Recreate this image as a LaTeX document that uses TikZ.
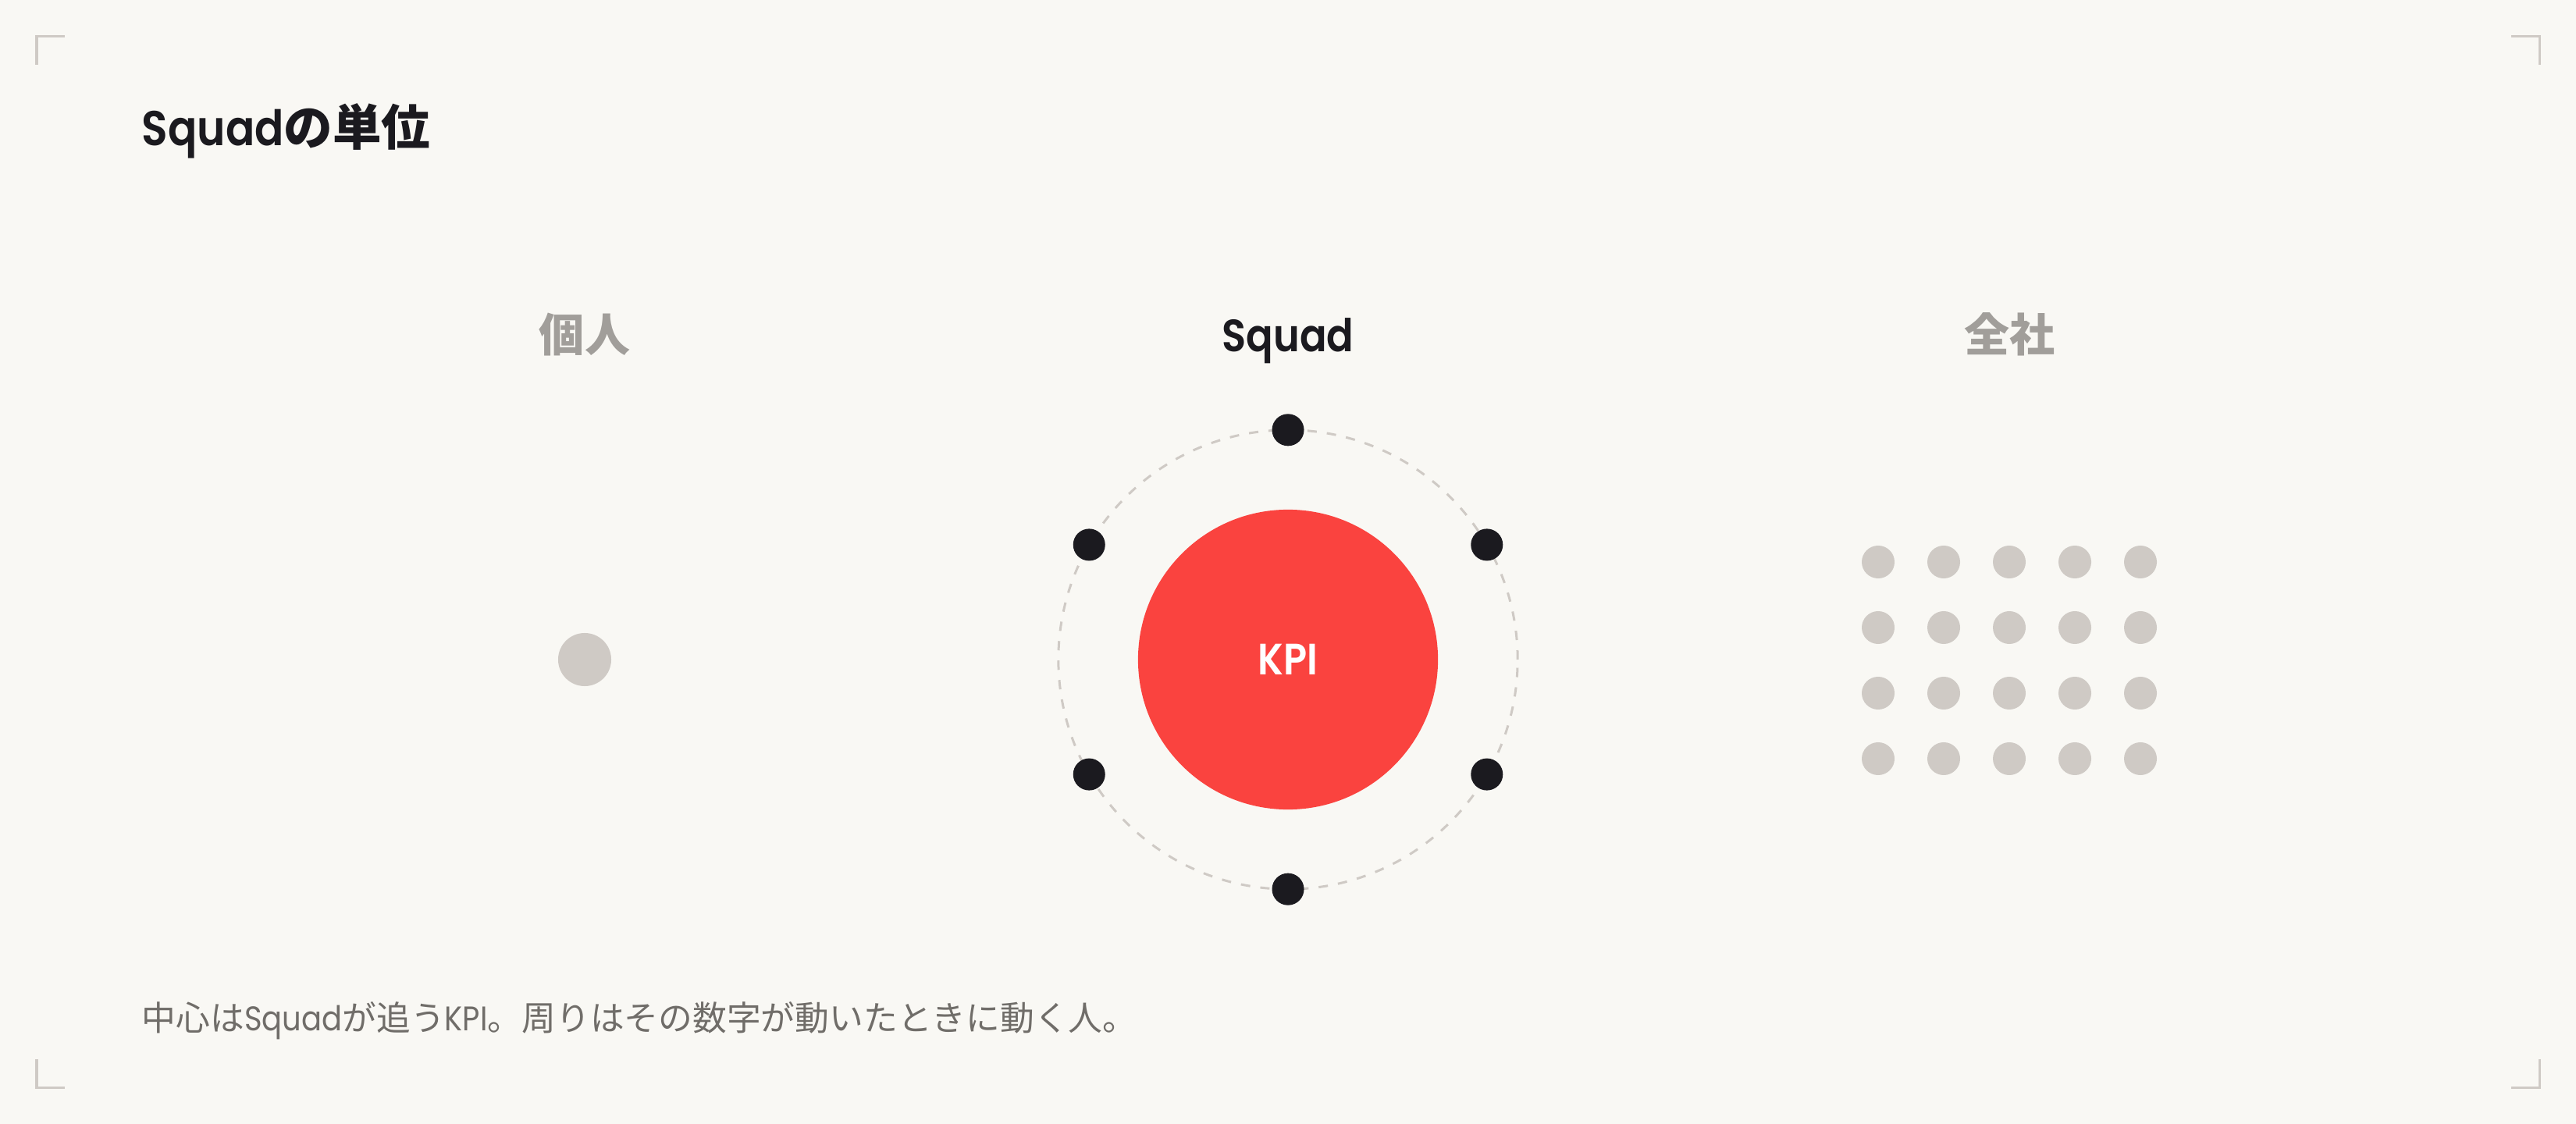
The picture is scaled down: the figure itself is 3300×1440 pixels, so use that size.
\documentclass[tikz,border=0pt]{standalone}
\usepackage{fontspec}
\setmainfont{Poppins}[BoldFont={Poppins SemiBold},FakeStretch=0.88]
\newfontfamily\cjk{Noto Sans CJK JP}
\definecolor{paper}{HTML}{F9F8F4}
\definecolor{ink}{HTML}{1B1A1F}
\definecolor{mute}{HTML}{A19E9A}
\definecolor{note}{HTML}{706D69}
\definecolor{pebble}{HTML}{CFCAC5}
\definecolor{kpired}{HTML}{FA433F}
\tikzset{
  corner/.style={pebble,line width=0.03cm},
  heading/.style={inner sep=0pt,anchor=base,font=\fontsize{16.5}{20}\selectfont\bfseries},
  member/.style={circle,fill=ink,inner sep=0pt,minimum size=0.41cm},
  crowd/.style={circle,fill=pebble,inner sep=0pt,minimum size=0.42cm},
}
\begin{document}
\begin{tikzpicture}[x=0.01cm,y=-0.01cm]
  \fill[paper] (0,0) rectangle (3300,1440);
  \useasboundingbox (0,0) rectangle (3300,1440);
  % corner marks
  \draw[corner] (47,83) -- (47,47) -- (83,47);
  \draw[corner] (3217,47) -- (3253,47) -- (3253,83);
  \draw[corner] (47,1357) -- (47,1393) -- (83,1393);
  \draw[corner] (3217,1393) -- (3253,1393) -- (3253,1357);
  \node[inner sep=0pt,anchor=base west,text=ink,font=\fontsize{17.8}{20}\selectfont\bfseries] (title) at (181,187) {Squad{\cjk の単位}};
  % column headings
  \node[heading,text=mute] (hsolo) at (749,451) {\cjk 個人};
  \node[heading,text=ink] (hsquad) at (1650,451) {Squad};
  \node[heading,text=mute] (hall) at (2574,451) {\cjk 全社};
  % one person
  \node[crowd,minimum size=0.68cm] (solo) at (749,845) {};
  % squad around its KPI
  \node[circle,draw=pebble,line width=0.03cm,dash pattern=on 0.12cm off 0.13cm,inner sep=0pt,outer sep=0pt,minimum size=5.88cm] (orbit) at (1650,845) {};
  \node[circle,fill=kpired,text=white,inner sep=0pt,minimum size=3.84cm,font=\fontsize{16}{18}\selectfont\bfseries] (kpi) at (1650,845) {KPI};
  \foreach \a in {90,30,-30,-90,-150,150}
    \node[member] (m\a) at (orbit.\a) {};
  % whole company
  \foreach \c in {0,...,4}
    \foreach \r in {0,...,3}
      \node[crowd] (g\c\r) at ({2406+84*\c},{720+84*\r}) {};
  \node[inner sep=0pt,anchor=base west,text=note,font=\fontsize{12.45}{15}\selectfont] (caption) at (181,1320) {{\cjk 中心は}Squad{\cjk が追う}KPI{\cjk 。周りはその数字が動いたときに動く人。}};
\end{tikzpicture}
\end{document}
